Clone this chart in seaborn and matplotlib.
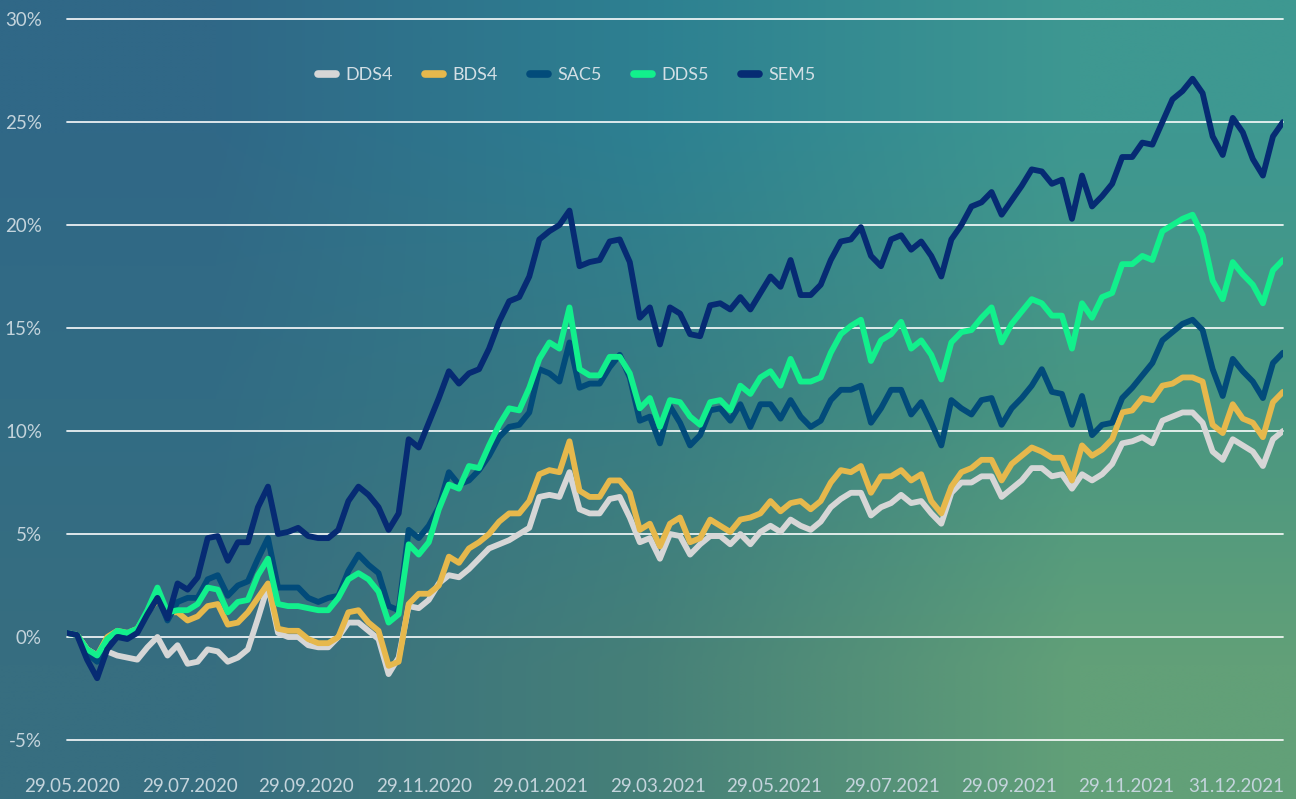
import numpy as np
import pandas as pd
import matplotlib
matplotlib.use("Agg")
import matplotlib.pyplot as plt
import seaborn as sns

# Доходность портфелей, % (шаг по оси ~ равный)
dds4 = [0.2, 0.1, -0.6, -0.9, -0.7, -0.9, -1.0, -1.1, -0.5, 0.0,
        -0.9, -0.4, -1.3, -1.2, -0.6, -0.7, -1.2, -1.0, -0.6, 0.9,
        2.5, 0.2, 0.0, 0.0, -0.4, -0.5, -0.5, 0.0, 0.7, 0.7,
        0.3, -0.1, -1.8, -1.0, 1.5, 1.4, 1.8, 2.6, 3.0, 2.9,
        3.3, 3.8, 4.3, 4.5, 4.7, 5.0, 5.3, 6.8, 6.9, 6.8,
        8.0, 6.2, 6.0, 6.0, 6.7, 6.8, 5.8, 4.6, 4.8, 3.8,
        5.0, 4.9, 4.0, 4.5, 4.9, 4.9, 4.5, 5.0, 4.5, 5.1,
        5.4, 5.1, 5.7, 5.4, 5.2, 5.6, 6.3, 6.7, 7.0, 7.0,
        5.9, 6.3, 6.5, 6.9, 6.5, 6.6, 6.0, 5.5, 7.0, 7.5,
        7.5, 7.8, 7.8, 6.8, 7.2, 7.6, 8.2, 8.2, 7.8, 7.9,
        7.2, 7.9, 7.6, 7.9, 8.4, 9.4, 9.5, 9.7, 9.4, 10.5,
        10.7, 10.9, 10.9, 10.4, 9.0, 8.6, 9.6, 9.3, 9.0, 8.3,
        9.6, 10.0]
bds4 = [0.2, 0.1, -0.6, -0.9, 0.0, 0.3, 0.2, 0.4, 1.2, 1.8,
        1.2, 1.2, 0.8, 1.0, 1.5, 1.6, 0.6, 0.7, 1.2, 1.9,
        2.6, 0.4, 0.3, 0.3, -0.1, -0.3, -0.3, 0.0, 1.2, 1.3,
        0.7, 0.3, -1.4, -1.2, 1.6, 2.1, 2.1, 2.5, 3.9, 3.6,
        4.3, 4.6, 5.0, 5.6, 6.0, 6.0, 6.6, 7.9, 8.1, 8.0,
        9.5, 7.1, 6.8, 6.8, 7.6, 7.6, 7.0, 5.2, 5.5, 4.4,
        5.5, 5.8, 4.6, 4.8, 5.7, 5.4, 5.1, 5.7, 5.8, 6.0,
        6.6, 6.1, 6.5, 6.6, 6.2, 6.6, 7.5, 8.1, 8.0, 8.3,
        7.0, 7.8, 7.8, 8.1, 7.6, 7.9, 6.6, 6.0, 7.3, 8.0,
        8.2, 8.6, 8.6, 7.6, 8.4, 8.8, 9.2, 9.0, 8.7, 8.7,
        7.6, 9.3, 8.8, 9.1, 9.6, 10.9, 11.0, 11.6, 11.5, 12.2,
        12.3, 12.6, 12.6, 12.4, 10.3, 9.9, 11.3, 10.6, 10.4, 9.7,
        11.4, 11.9]
sac5 = [0.2, 0.1, -0.8, -1.2, -0.3, 0.1, 0.2, 0.3, 1.2, 2.0,
        0.8, 1.7, 1.9, 1.9, 2.8, 3.0, 2.0, 2.5, 2.7, 3.8,
        4.8, 2.4, 2.4, 2.4, 1.9, 1.7, 1.9, 2.0, 3.2, 4.0,
        3.5, 3.1, 1.5, 1.3, 5.2, 4.8, 5.4, 6.3, 8.0, 7.4,
        7.6, 8.1, 8.8, 9.7, 10.2, 10.3, 10.9, 13.0, 12.8, 12.4,
        14.3, 12.1, 12.3, 12.3, 13.1, 13.7, 12.6, 10.5, 10.7, 9.4,
        11.2, 10.4, 9.3, 9.8, 11.0, 11.1, 10.5, 11.3, 10.2, 11.3,
        11.3, 10.6, 11.5, 10.7, 10.2, 10.5, 11.5, 12.0, 12.0, 12.2,
        10.4, 11.1, 12.0, 12.0, 10.8, 11.4, 10.4, 9.3, 11.5, 11.1,
        10.8, 11.5, 11.6, 10.3, 11.1, 11.6, 12.2, 13.0, 11.9, 11.8,
        10.3, 11.7, 9.8, 10.3, 10.4, 11.6, 12.1, 12.7, 13.3, 14.4,
        14.8, 15.2, 15.4, 14.9, 13.0, 11.7, 13.5, 12.9, 12.4, 11.6,
        13.3, 13.8]
dds5 = [0.2, 0.1, -0.6, -0.9, -0.1, 0.3, 0.2, 0.4, 1.3, 2.4,
        1.2, 1.3, 1.3, 1.6, 2.4, 2.3, 1.2, 1.7, 1.8, 3.0,
        3.8, 1.6, 1.5, 1.5, 1.4, 1.3, 1.3, 1.9, 2.8, 3.1,
        2.8, 2.2, 0.7, 1.1, 4.5, 4.0, 4.6, 6.2, 7.4, 7.2,
        8.3, 8.2, 9.3, 10.3, 11.1, 11.0, 12.1, 13.5, 14.3, 14.0,
        16.0, 13.0, 12.7, 12.7, 13.6, 13.6, 12.8, 11.1, 11.6, 10.2,
        11.5, 11.4, 10.7, 10.3, 11.4, 11.5, 11.0, 12.2, 11.8, 12.6,
        12.9, 12.2, 13.5, 12.4, 12.4, 12.6, 13.8, 14.7, 15.1, 15.4,
        13.4, 14.4, 14.7, 15.3, 14.0, 14.4, 13.7, 12.5, 14.3, 14.8,
        14.9, 15.5, 16.0, 14.3, 15.2, 15.8, 16.4, 16.2, 15.6, 15.6,
        14.0, 16.2, 15.5, 16.5, 16.7, 18.1, 18.1, 18.5, 18.3, 19.7,
        20.0, 20.3, 20.5, 19.5, 17.3, 16.4, 18.2, 17.6, 17.1, 16.2,
        17.8, 18.3]
sem5 = [0.2, 0.1, -1.1, -2.0, -0.6, 0.0, -0.1, 0.2, 1.1, 1.9,
        0.9, 2.6, 2.3, 2.9, 4.8, 4.9, 3.7, 4.6, 4.6, 6.3,
        7.3, 5.0, 5.1, 5.3, 4.9, 4.8, 4.8, 5.2, 6.6, 7.3,
        6.9, 6.3, 5.2, 6.0, 9.6, 9.2, 10.4, 11.6, 12.9, 12.3,
        12.8, 13.0, 14.0, 15.3, 16.3, 16.5, 17.5, 19.3, 19.7, 20.0,
        20.7, 18.0, 18.2, 18.3, 19.2, 19.3, 18.2, 15.5, 16.0, 14.2,
        16.0, 15.7, 14.7, 14.6, 16.1, 16.2, 15.9, 16.5, 15.9, 16.7,
        17.5, 17.0, 18.3, 16.6, 16.6, 17.1, 18.3, 19.2, 19.3, 19.9,
        18.5, 18.0, 19.3, 19.5, 18.8, 19.2, 18.5, 17.5, 19.3, 20.0,
        20.9, 21.1, 21.6, 20.5, 21.2, 21.9, 22.7, 22.6, 22.0, 22.2,
        20.3, 22.4, 20.9, 21.4, 22.0, 23.3, 23.3, 24.0, 23.9, 25.0,
        26.1, 26.5, 27.1, 26.4, 24.3, 23.4, 25.2, 24.5, 23.2, 22.4,
        24.3, 25.0]

series_names = ["DDS4", "BDS4", "SAC5", "DDS5", "SEM5"]
series_colors = ["#d6d6d6", "#e6b84c", "#024b7a", "#12f08c", "#062b73"]

tick_pos = [0.5, 12.2, 23.8, 35.5, 47.1, 58.8, 70.4, 82.1, 93.7, 105.4, 116.4]
tick_labels = ["29.05.2020", "29.07.2020", "29.09.2020", "29.11.2020",
               "29.01.2021", "29.03.2021", "29.05.2021", "29.07.2021",
               "29.09.2021", "29.11.2021", "31.12.2021"]
y_ticks = [-5, 0, 5, 10, 15, 20, 25, 30]

sns.set_theme(style="white")
plt.rcParams['font.family'] = ['Lato', 'DejaVu Sans']

fig = plt.figure(figsize=(12.96, 7.99), dpi=100)

# фон-градиент
grad = np.array([
    [[48, 104, 135], [45, 128, 145], [62, 152, 145]],
    [[50, 108, 132], [55, 125, 132], [72, 150, 130]],
    [[55, 110, 128], [70, 128, 120], [98, 160, 120]],
]) / 255
bg = fig.add_axes([0, 0, 1, 1], zorder=0)
bg.imshow(grad, aspect='auto', interpolation='bilinear', extent=[0, 1, 0, 1])
bg.axis('off')

ax = fig.add_axes([67 / 1296, 1 - 740 / 799, 1216 / 1296, 721 / 799], zorder=1)
ax.patch.set_alpha(0)

for y in y_ticks:
    ax.axhline(y, color="white", linewidth=1.3, alpha=0.9, zorder=1, clip_on=False)

data = {"DDS4": dds4, "BDS4": bds4, "SAC5": sac5, "DDS5": dds5, "SEM5": sem5}
for name, color in zip(series_names, series_colors):
    vals = data[name]
    df = pd.DataFrame({"idx": np.arange(len(vals)), "value": vals})
    sns.lineplot(data=df, x="idx", y="value", color=color, linewidth=4.2,
                 label=name, ax=ax, zorder=3,
                 solid_joinstyle="round", solid_capstyle="round")

ax.set_xlim(0, len(sem5) - 1)
ax.set_ylim(-5, 30)
ax.set_xticks(tick_pos)
ax.set_xticklabels(tick_labels)
ax.set_yticks(y_ticks)
ax.set_yticklabels([f"{v}%" for v in y_ticks])
ax.tick_params(axis="both", colors="#c4d4dc", labelsize=13.5, length=0)
ax.tick_params(axis="x", pad=27)
ax.tick_params(axis="y", pad=18)
ax.set_xlabel("")
ax.set_ylabel("")
for s in ax.spines.values():
    s.set_visible(False)

leg = ax.legend(ncol=5, loc="center", bbox_to_anchor=(0.411, 0.922), frameon=False,
                handlelength=1.0, handletextpad=0.55, columnspacing=1.75,
                prop={"family": ["Lato"], "size": 13})
for t in leg.get_texts():
    t.set_color("#d3dfe5")
for h in leg.get_lines():
    h.set_linewidth(5.5)
    h.set_solid_capstyle("round")

fig.savefig("out.png", dpi=100)
